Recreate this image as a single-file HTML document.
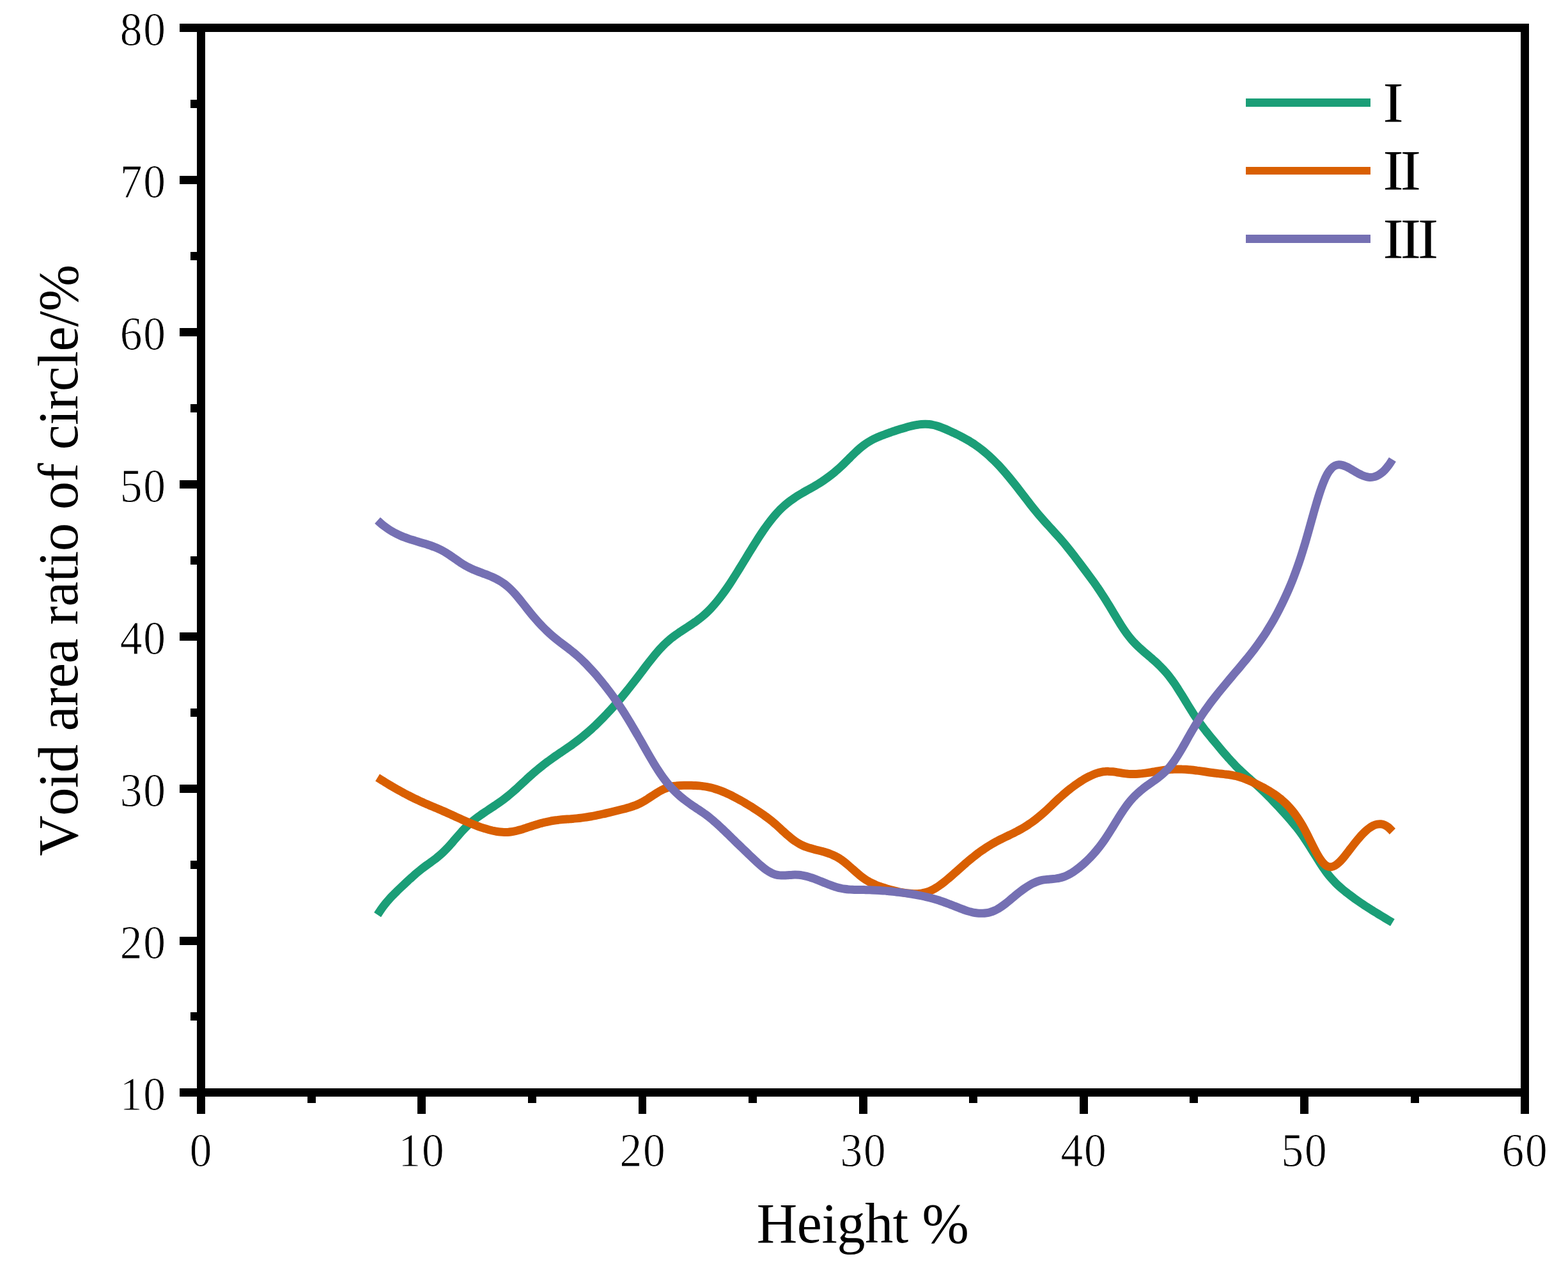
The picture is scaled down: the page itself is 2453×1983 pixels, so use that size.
<!DOCTYPE html>
<html lang="en"><head><meta charset="utf-8"><title>Void area ratio of circle vs Height</title>
<style>
html,body{margin:0;padding:0;background:#fff;}
body{width:2453px;height:1983px;overflow:hidden;}
svg{display:block;}
text{font-family:"Liberation Serif","Times New Roman",Times,serif;fill:#000;font-kerning:none;}
.tk{font-size:73px;letter-spacing:2px;stroke:#fff;stroke-width:0.9px;stroke-linejoin:round;}
.ax{font-size:88px;letter-spacing:-0.4px;}
.lg{font-size:88px;letter-spacing:-4.5px;}
</style></head><body>
<svg width="2453" height="1983" viewBox="0 0 2453 1983" role="img" aria-label="Void area ratio of circle versus Height">
<rect x="0" y="0" width="2453" height="1983" fill="#fff"/>
<g fill="none" stroke-width="13" stroke-linecap="butt" stroke-linejoin="round">
<path stroke="#1b9e77" d="M590.6 1430.6C591.6 1429.1 594.6 1424.4 596.6 1421.6C598.6 1418.7 600.6 1416.1 602.6 1413.6C604.6 1411.1 606.6 1408.8 608.6 1406.6C610.6 1404.3 612.6 1402.2 614.6 1400.2C616.6 1398.1 618.6 1396.1 620.6 1394.2C622.6 1392.2 624.6 1390.3 626.6 1388.4C628.6 1386.5 630.6 1384.6 632.6 1382.7C634.6 1380.8 636.6 1378.9 638.6 1377.1C640.6 1375.3 642.6 1373.4 644.6 1371.7C646.6 1369.9 648.6 1368.1 650.5 1366.4C652.5 1364.7 654.5 1363.1 656.5 1361.5C658.5 1359.9 660.5 1358.3 662.5 1356.8C664.5 1355.3 666.5 1353.8 668.5 1352.4C670.5 1350.9 672.5 1349.5 674.5 1348.0C676.5 1346.6 678.5 1345.1 680.5 1343.6C682.5 1342.0 684.5 1340.5 686.5 1338.8C688.5 1337.1 690.5 1335.4 692.5 1333.5C694.5 1331.6 696.5 1329.6 698.5 1327.5C700.5 1325.4 702.5 1323.2 704.5 1321.0C706.5 1318.8 708.5 1316.4 710.5 1314.1C712.5 1311.8 714.5 1309.5 716.5 1307.2C718.5 1304.9 720.5 1302.6 722.4 1300.5C724.4 1298.3 726.4 1296.1 728.4 1294.1C730.4 1292.1 732.4 1290.2 734.4 1288.4C736.4 1286.6 738.4 1284.9 740.4 1283.3C742.4 1281.7 744.4 1280.1 746.4 1278.6C748.4 1277.1 750.4 1275.7 752.4 1274.3C754.4 1272.9 756.4 1271.6 758.4 1270.2C760.4 1268.9 762.4 1267.6 764.4 1266.2C766.4 1264.9 768.4 1263.6 770.4 1262.3C772.4 1260.9 774.4 1259.6 776.4 1258.2C778.4 1256.9 780.4 1255.5 782.4 1254.1C784.4 1252.6 786.4 1251.2 788.4 1249.7C790.4 1248.2 792.3 1246.7 794.3 1245.1C796.3 1243.5 798.3 1241.8 800.3 1240.1C802.3 1238.4 804.3 1236.7 806.3 1234.9C808.3 1233.1 810.3 1231.2 812.3 1229.4C814.3 1227.6 816.3 1225.7 818.3 1223.8C820.3 1222.0 822.3 1220.1 824.3 1218.2C826.3 1216.4 828.3 1214.5 830.3 1212.8C832.3 1211.0 834.3 1209.2 836.3 1207.5C838.3 1205.8 840.3 1204.1 842.3 1202.5C844.3 1200.8 846.3 1199.2 848.3 1197.7C850.3 1196.1 852.3 1194.5 854.3 1193.0C856.3 1191.5 858.3 1190.1 860.3 1188.6C862.3 1187.2 864.2 1185.7 866.2 1184.3C868.2 1182.9 870.2 1181.6 872.2 1180.2C874.2 1178.8 876.2 1177.5 878.2 1176.1C880.2 1174.8 882.2 1173.4 884.2 1172.1C886.2 1170.7 888.2 1169.3 890.2 1168.0C892.2 1166.6 894.2 1165.2 896.2 1163.7C898.2 1162.3 900.2 1160.8 902.2 1159.3C904.2 1157.8 906.2 1156.2 908.2 1154.6C910.2 1153.1 912.2 1151.4 914.2 1149.7C916.2 1148.1 918.2 1146.4 920.2 1144.6C922.2 1142.9 924.2 1141.1 926.2 1139.3C928.2 1137.4 930.2 1135.6 932.2 1133.7C934.2 1131.8 936.1 1129.9 938.1 1127.9C940.1 1125.9 942.1 1123.9 944.1 1121.9C946.1 1119.8 948.1 1117.8 950.1 1115.6C952.1 1113.5 954.1 1111.4 956.1 1109.2C958.1 1107.0 960.1 1104.8 962.1 1102.5C964.1 1100.3 966.1 1098.0 968.1 1095.6C970.1 1093.3 972.1 1090.9 974.1 1088.5C976.1 1086.1 978.1 1083.6 980.1 1081.1C982.1 1078.7 984.1 1076.2 986.1 1073.6C988.1 1071.1 990.1 1068.5 992.1 1066.0C994.1 1063.4 996.1 1060.8 998.1 1058.2C1000.1 1055.6 1002.1 1053.0 1004.1 1050.4C1006.0 1047.8 1008.0 1045.1 1010.0 1042.5C1012.0 1039.9 1014.0 1037.3 1016.0 1034.8C1018.0 1032.2 1020.0 1029.7 1022.0 1027.2C1024.0 1024.7 1026.0 1022.3 1028.0 1020.0C1030.0 1017.7 1032.0 1015.4 1034.0 1013.3C1036.0 1011.1 1038.0 1009.1 1040.0 1007.1C1042.0 1005.2 1044.0 1003.4 1046.0 1001.7C1048.0 1000.0 1050.0 998.3 1052.0 996.8C1054.0 995.2 1056.0 993.8 1058.0 992.4C1060.0 990.9 1062.0 989.6 1064.0 988.2C1066.0 986.9 1068.0 985.6 1070.0 984.3C1072.0 983.0 1074.0 981.7 1076.0 980.4C1077.9 979.1 1079.9 977.8 1081.9 976.5C1083.9 975.1 1085.9 973.8 1087.9 972.4C1089.9 970.9 1091.9 969.5 1093.9 967.9C1095.9 966.4 1097.9 964.8 1099.9 963.1C1101.9 961.4 1103.9 959.6 1105.9 957.7C1107.9 955.8 1109.9 953.8 1111.9 951.7C1113.9 949.6 1115.9 947.4 1117.9 945.1C1119.9 942.7 1121.9 940.3 1123.9 937.8C1125.9 935.3 1127.9 932.6 1129.9 929.9C1131.9 927.2 1133.9 924.4 1135.9 921.6C1137.9 918.7 1139.9 915.8 1141.9 912.8C1143.9 909.8 1145.9 906.7 1147.8 903.6C1149.8 900.5 1151.8 897.3 1153.8 894.1C1155.8 890.9 1157.8 887.6 1159.8 884.4C1161.8 881.1 1163.8 877.8 1165.8 874.6C1167.8 871.3 1169.8 868.0 1171.8 864.7C1173.8 861.5 1175.8 858.2 1177.8 855.0C1179.8 851.8 1181.8 848.6 1183.8 845.5C1185.8 842.3 1187.8 839.2 1189.8 836.2C1191.8 833.2 1193.8 830.2 1195.8 827.3C1197.8 824.5 1199.8 821.7 1201.8 819.0C1203.8 816.3 1205.8 813.7 1207.8 811.2C1209.8 808.7 1211.8 806.3 1213.8 804.1C1215.8 801.8 1217.8 799.7 1219.7 797.7C1221.7 795.7 1223.7 793.8 1225.7 792.0C1227.7 790.2 1229.7 788.5 1231.7 786.9C1233.7 785.3 1235.7 783.8 1237.7 782.3C1239.7 780.9 1241.7 779.5 1243.7 778.1C1245.7 776.8 1247.7 775.5 1249.7 774.3C1251.7 773.1 1253.7 771.9 1255.7 770.7C1257.7 769.6 1259.7 768.4 1261.7 767.3C1263.7 766.2 1265.7 765.1 1267.7 764.0C1269.7 762.8 1271.7 761.7 1273.7 760.6C1275.7 759.4 1277.7 758.2 1279.7 757.0C1281.7 755.8 1283.7 754.5 1285.7 753.2C1287.7 751.9 1289.7 750.6 1291.6 749.1C1293.6 747.7 1295.6 746.3 1297.6 744.8C1299.6 743.3 1301.6 741.7 1303.6 740.1C1305.6 738.4 1307.6 736.8 1309.6 735.0C1311.6 733.3 1313.6 731.5 1315.6 729.6C1317.6 727.7 1319.6 725.8 1321.6 723.8C1323.6 721.9 1325.6 719.8 1327.6 717.9C1329.6 715.9 1331.6 713.8 1333.6 711.9C1335.6 709.9 1337.6 708.0 1339.6 706.1C1341.6 704.3 1343.6 702.5 1345.6 700.8C1347.6 699.1 1349.6 697.5 1351.6 696.0C1353.6 694.5 1355.6 693.2 1357.6 691.9C1359.6 690.6 1361.5 689.5 1363.5 688.4C1365.5 687.3 1367.5 686.3 1369.5 685.4C1371.5 684.5 1373.5 683.6 1375.5 682.8C1377.5 681.9 1379.5 681.1 1381.5 680.4C1383.5 679.6 1385.5 678.9 1387.5 678.1C1389.5 677.4 1391.5 676.7 1393.5 676.0C1395.5 675.3 1397.5 674.6 1399.5 674.0C1401.5 673.3 1403.5 672.6 1405.5 672.0C1407.5 671.4 1409.5 670.8 1411.5 670.2C1413.5 669.6 1415.5 669.0 1417.5 668.4C1419.5 667.9 1421.5 667.3 1423.5 666.8C1425.5 666.3 1427.5 665.8 1429.5 665.4C1431.5 665.0 1433.4 664.6 1435.4 664.3C1437.4 663.9 1439.4 663.7 1441.4 663.5C1443.4 663.3 1445.4 663.2 1447.4 663.2C1449.4 663.2 1451.4 663.3 1453.4 663.5C1455.4 663.8 1457.4 664.1 1459.4 664.5C1461.4 664.9 1463.4 665.4 1465.4 666.0C1467.4 666.6 1469.4 667.3 1471.4 668.0C1473.4 668.8 1475.4 669.6 1477.4 670.4C1479.4 671.2 1481.4 672.1 1483.4 673.0C1485.4 673.9 1487.4 674.8 1489.4 675.7C1491.4 676.7 1493.4 677.6 1495.4 678.6C1497.4 679.5 1499.4 680.5 1501.4 681.5C1503.3 682.5 1505.3 683.6 1507.3 684.6C1509.3 685.7 1511.3 686.8 1513.3 688.0C1515.3 689.1 1517.3 690.3 1519.3 691.6C1521.3 692.8 1523.3 694.1 1525.3 695.5C1527.3 696.9 1529.3 698.3 1531.3 699.8C1533.3 701.2 1535.3 702.8 1537.3 704.4C1539.3 706.0 1541.3 707.7 1543.3 709.4C1545.3 711.1 1547.3 712.9 1549.3 714.8C1551.3 716.6 1553.3 718.5 1555.3 720.5C1557.3 722.5 1559.3 724.5 1561.3 726.6C1563.3 728.7 1565.3 730.9 1567.3 733.1C1569.3 735.3 1571.3 737.6 1573.3 739.9C1575.2 742.3 1577.2 744.6 1579.2 747.0C1581.2 749.4 1583.2 751.9 1585.2 754.4C1587.2 756.9 1589.2 759.4 1591.2 761.9C1593.2 764.5 1595.2 767.1 1597.2 769.7C1599.2 772.3 1601.2 774.9 1603.2 777.5C1605.2 780.1 1607.2 782.7 1609.2 785.3C1611.2 787.9 1613.2 790.4 1615.2 793.0C1617.2 795.5 1619.2 798.0 1621.2 800.4C1623.2 802.9 1625.2 805.3 1627.2 807.6C1629.2 809.9 1631.2 812.2 1633.2 814.4C1635.2 816.7 1637.2 818.9 1639.2 821.0C1641.2 823.2 1643.2 825.4 1645.2 827.5C1647.1 829.7 1649.1 831.9 1651.1 834.1C1653.1 836.3 1655.1 838.5 1657.1 840.7C1659.1 843.0 1661.1 845.3 1663.1 847.7C1665.1 850.0 1667.1 852.4 1669.1 854.9C1671.1 857.4 1673.1 859.9 1675.1 862.4C1677.1 865.0 1679.1 867.5 1681.1 870.1C1683.1 872.8 1685.1 875.4 1687.1 878.0C1689.1 880.7 1691.1 883.3 1693.1 886.0C1695.1 888.7 1697.1 891.3 1699.1 894.0C1701.1 896.7 1703.1 899.4 1705.1 902.1C1707.1 904.8 1709.1 907.5 1711.1 910.3C1713.1 913.1 1715.1 915.9 1717.0 918.8C1719.0 921.7 1721.0 924.6 1723.0 927.7C1725.0 930.7 1727.0 933.8 1729.0 936.9C1731.0 940.1 1733.0 943.4 1735.0 946.7C1737.0 950.0 1739.0 953.4 1741.0 956.7C1743.0 960.1 1745.0 963.4 1747.0 966.7C1749.0 970.0 1751.0 973.3 1753.0 976.5C1755.0 979.6 1757.0 982.7 1759.0 985.6C1761.0 988.5 1763.0 991.3 1765.0 993.9C1767.0 996.5 1769.0 998.9 1771.0 1001.2C1773.0 1003.5 1775.0 1005.6 1777.0 1007.6C1779.0 1009.6 1781.0 1011.5 1783.0 1013.4C1785.0 1015.2 1787.0 1017.0 1788.9 1018.7C1790.9 1020.4 1792.9 1022.1 1794.9 1023.8C1796.9 1025.5 1798.9 1027.2 1800.9 1028.9C1802.9 1030.7 1804.9 1032.4 1806.9 1034.2C1808.9 1036.0 1810.9 1037.9 1812.9 1039.9C1814.9 1041.8 1816.9 1043.8 1818.9 1045.9C1820.9 1048.1 1822.9 1050.3 1824.9 1052.6C1826.9 1055.0 1828.9 1057.4 1830.9 1060.1C1832.9 1062.7 1834.9 1065.5 1836.9 1068.3C1838.9 1071.2 1840.9 1074.3 1842.9 1077.4C1844.9 1080.5 1846.9 1083.7 1848.9 1086.9C1850.9 1090.2 1852.9 1093.5 1854.9 1096.7C1856.9 1100.0 1858.8 1103.2 1860.8 1106.4C1862.8 1109.6 1864.8 1112.8 1866.8 1115.9C1868.8 1118.9 1870.8 1121.9 1872.8 1124.8C1874.8 1127.6 1876.8 1130.4 1878.8 1133.1C1880.8 1135.8 1882.8 1138.5 1884.8 1141.1C1886.8 1143.6 1888.8 1146.2 1890.8 1148.6C1892.8 1151.1 1894.8 1153.6 1896.8 1156.0C1898.8 1158.4 1900.8 1160.8 1902.8 1163.2C1904.8 1165.6 1906.8 1168.0 1908.8 1170.4C1910.8 1172.7 1912.8 1175.1 1914.8 1177.4C1916.8 1179.7 1918.8 1182.0 1920.8 1184.3C1922.8 1186.5 1924.8 1188.8 1926.8 1190.9C1928.8 1193.1 1930.7 1195.2 1932.7 1197.3C1934.7 1199.3 1936.7 1201.3 1938.7 1203.2C1940.7 1205.2 1942.7 1207.0 1944.7 1208.9C1946.7 1210.7 1948.7 1212.5 1950.7 1214.3C1952.7 1216.1 1954.7 1217.8 1956.7 1219.6C1958.7 1221.3 1960.7 1223.0 1962.7 1224.8C1964.7 1226.6 1966.7 1228.4 1968.7 1230.2C1970.7 1232.0 1972.7 1233.9 1974.7 1235.8C1976.7 1237.7 1978.7 1239.6 1980.7 1241.6C1982.7 1243.6 1984.7 1245.6 1986.7 1247.6C1988.7 1249.7 1990.7 1251.8 1992.7 1253.9C1994.7 1256.0 1996.7 1258.1 1998.7 1260.2C2000.7 1262.4 2002.6 1264.5 2004.6 1266.7C2006.6 1268.9 2008.6 1271.0 2010.6 1273.3C2012.6 1275.5 2014.6 1277.7 2016.6 1280.0C2018.6 1282.3 2020.6 1284.6 2022.6 1287.0C2024.6 1289.4 2026.6 1291.8 2028.6 1294.3C2030.6 1296.9 2032.6 1299.5 2034.6 1302.2C2036.6 1305.0 2038.6 1307.8 2040.6 1310.7C2042.6 1313.7 2044.6 1316.8 2046.6 1319.9C2048.6 1323.0 2050.6 1326.3 2052.6 1329.5C2054.6 1332.7 2056.6 1336.0 2058.6 1339.2C2060.6 1342.4 2062.6 1345.6 2064.6 1348.7C2066.6 1351.8 2068.6 1354.8 2070.6 1357.7C2072.5 1360.6 2074.5 1363.4 2076.5 1366.0C2078.5 1368.6 2080.5 1371.0 2082.5 1373.3C2084.5 1375.6 2086.5 1377.7 2088.5 1379.8C2090.5 1381.8 2092.5 1383.8 2094.5 1385.6C2096.5 1387.4 2098.5 1389.2 2100.5 1390.9C2102.5 1392.6 2104.5 1394.2 2106.5 1395.7C2108.5 1397.3 2110.5 1398.8 2112.5 1400.3C2114.5 1401.8 2116.5 1403.3 2118.5 1404.8C2120.5 1406.2 2122.5 1407.6 2124.5 1409.0C2126.5 1410.4 2128.5 1411.8 2130.5 1413.1C2132.5 1414.4 2134.5 1415.8 2136.5 1417.1C2138.5 1418.4 2140.5 1419.6 2142.5 1420.9C2144.4 1422.2 2146.4 1423.4 2148.4 1424.7C2150.4 1425.9 2152.4 1427.1 2154.4 1428.3C2156.4 1429.6 2158.4 1430.8 2160.4 1432.0C2162.4 1433.2 2164.4 1434.4 2166.4 1435.6C2168.4 1436.8 2170.4 1438.0 2172.4 1439.2C2174.4 1440.4 2177.4 1442.2 2178.4 1442.8"/>
<path stroke="#d95f02" d="M590.6 1216.0C591.6 1216.6 594.6 1218.5 596.6 1219.7C598.6 1221.0 600.6 1222.2 602.6 1223.5C604.6 1224.7 606.6 1225.9 608.6 1227.1C610.6 1228.3 612.6 1229.5 614.6 1230.6C616.6 1231.8 618.6 1232.9 620.6 1234.1C622.6 1235.2 624.6 1236.3 626.6 1237.4C628.6 1238.5 630.6 1239.6 632.6 1240.7C634.6 1241.7 636.6 1242.8 638.6 1243.8C640.6 1244.9 642.6 1245.9 644.6 1246.9C646.6 1247.9 648.6 1248.8 650.5 1249.8C652.5 1250.7 654.5 1251.7 656.5 1252.6C658.5 1253.5 660.5 1254.4 662.5 1255.3C664.5 1256.2 666.5 1257.1 668.5 1257.9C670.5 1258.8 672.5 1259.6 674.5 1260.5C676.5 1261.3 678.5 1262.1 680.5 1263.0C682.5 1263.8 684.5 1264.6 686.5 1265.5C688.5 1266.3 690.5 1267.2 692.5 1268.1C694.5 1268.9 696.5 1269.8 698.5 1270.7C700.5 1271.6 702.5 1272.5 704.5 1273.4C706.5 1274.3 708.5 1275.2 710.5 1276.1C712.5 1277.1 714.5 1278.0 716.5 1278.9C718.5 1279.8 720.5 1280.7 722.4 1281.6C724.4 1282.5 726.4 1283.4 728.4 1284.3C730.4 1285.1 732.4 1286.0 734.4 1286.8C736.4 1287.7 738.4 1288.5 740.4 1289.3C742.4 1290.1 744.4 1290.9 746.4 1291.6C748.4 1292.4 750.4 1293.1 752.4 1293.8C754.4 1294.5 756.4 1295.1 758.4 1295.7C760.4 1296.4 762.4 1297.0 764.4 1297.5C766.4 1298.0 768.4 1298.5 770.4 1299.0C772.4 1299.4 774.4 1299.9 776.4 1300.2C778.4 1300.5 780.4 1300.8 782.4 1301.0C784.4 1301.2 786.4 1301.4 788.4 1301.4C790.4 1301.5 792.3 1301.5 794.3 1301.4C796.3 1301.3 798.3 1301.1 800.3 1300.8C802.3 1300.5 804.3 1300.1 806.3 1299.7C808.3 1299.2 810.3 1298.7 812.3 1298.1C814.3 1297.6 816.3 1297.0 818.3 1296.4C820.3 1295.7 822.3 1295.1 824.3 1294.4C826.3 1293.7 828.3 1293.1 830.3 1292.4C832.3 1291.8 834.3 1291.1 836.3 1290.5C838.3 1289.9 840.3 1289.3 842.3 1288.7C844.3 1288.1 846.3 1287.6 848.3 1287.0C850.3 1286.5 852.3 1286.0 854.3 1285.6C856.3 1285.1 858.3 1284.7 860.3 1284.3C862.3 1283.9 864.2 1283.6 866.2 1283.3C868.2 1283.0 870.2 1282.7 872.2 1282.5C874.2 1282.2 876.2 1282.0 878.2 1281.8C880.2 1281.7 882.2 1281.5 884.2 1281.3C886.2 1281.2 888.2 1281.0 890.2 1280.9C892.2 1280.7 894.2 1280.6 896.2 1280.4C898.2 1280.3 900.2 1280.1 902.2 1279.9C904.2 1279.7 906.2 1279.5 908.2 1279.2C910.2 1279.0 912.2 1278.7 914.2 1278.4C916.2 1278.1 918.2 1277.8 920.2 1277.5C922.2 1277.2 924.2 1276.8 926.2 1276.5C928.2 1276.1 930.2 1275.7 932.2 1275.3C934.2 1274.9 936.1 1274.5 938.1 1274.1C940.1 1273.7 942.1 1273.3 944.1 1272.8C946.1 1272.4 948.1 1271.9 950.1 1271.4C952.1 1271.0 954.1 1270.5 956.1 1270.0C958.1 1269.5 960.1 1269.0 962.1 1268.5C964.1 1268.0 966.1 1267.5 968.1 1267.0C970.1 1266.5 972.1 1266.0 974.1 1265.5C976.1 1265.0 978.1 1264.5 980.1 1263.9C982.1 1263.4 984.1 1262.8 986.1 1262.2C988.1 1261.5 990.1 1260.9 992.1 1260.1C994.1 1259.4 996.1 1258.6 998.1 1257.7C1000.1 1256.8 1002.1 1255.9 1004.1 1254.8C1006.0 1253.7 1008.0 1252.6 1010.0 1251.4C1012.0 1250.2 1014.0 1248.8 1016.0 1247.5C1018.0 1246.2 1020.0 1244.9 1022.0 1243.6C1024.0 1242.3 1026.0 1241.0 1028.0 1239.7C1030.0 1238.5 1032.0 1237.3 1034.0 1236.3C1036.0 1235.2 1038.0 1234.2 1040.0 1233.4C1042.0 1232.6 1044.0 1231.9 1046.0 1231.3C1048.0 1230.7 1050.0 1230.2 1052.0 1229.8C1054.0 1229.5 1056.0 1229.2 1058.0 1229.0C1060.0 1228.7 1062.0 1228.6 1064.0 1228.5C1066.0 1228.4 1068.0 1228.3 1070.0 1228.3C1072.0 1228.3 1074.0 1228.3 1076.0 1228.3C1077.9 1228.3 1079.9 1228.3 1081.9 1228.3C1083.9 1228.4 1085.9 1228.4 1087.9 1228.5C1089.9 1228.6 1091.9 1228.7 1093.9 1228.9C1095.9 1229.1 1097.9 1229.3 1099.9 1229.6C1101.9 1229.8 1103.9 1230.1 1105.9 1230.5C1107.9 1230.9 1109.9 1231.3 1111.9 1231.8C1113.9 1232.3 1115.9 1232.8 1117.9 1233.4C1119.9 1234.0 1121.9 1234.7 1123.9 1235.4C1125.9 1236.1 1127.9 1236.8 1129.9 1237.6C1131.9 1238.4 1133.9 1239.3 1135.9 1240.2C1137.9 1241.1 1139.9 1242.0 1141.9 1242.9C1143.9 1243.9 1145.9 1244.9 1147.8 1245.9C1149.8 1246.9 1151.8 1248.0 1153.8 1249.1C1155.8 1250.2 1157.8 1251.3 1159.8 1252.4C1161.8 1253.5 1163.8 1254.7 1165.8 1255.9C1167.8 1257.1 1169.8 1258.3 1171.8 1259.5C1173.8 1260.7 1175.8 1262.0 1177.8 1263.2C1179.8 1264.5 1181.8 1265.8 1183.8 1267.1C1185.8 1268.4 1187.8 1269.7 1189.8 1271.1C1191.8 1272.4 1193.8 1273.8 1195.8 1275.3C1197.8 1276.7 1199.8 1278.2 1201.8 1279.7C1203.8 1281.2 1205.8 1282.8 1207.8 1284.4C1209.8 1286.1 1211.8 1287.8 1213.8 1289.5C1215.8 1291.3 1217.8 1293.1 1219.7 1294.9C1221.7 1296.7 1223.7 1298.6 1225.7 1300.4C1227.7 1302.2 1229.7 1304.0 1231.7 1305.8C1233.7 1307.5 1235.7 1309.2 1237.7 1310.8C1239.7 1312.4 1241.7 1314.0 1243.7 1315.4C1245.7 1316.7 1247.7 1318.0 1249.7 1319.1C1251.7 1320.3 1253.7 1321.3 1255.7 1322.2C1257.7 1323.1 1259.7 1323.9 1261.7 1324.6C1263.7 1325.3 1265.7 1326.0 1267.7 1326.6C1269.7 1327.2 1271.7 1327.7 1273.7 1328.2C1275.7 1328.8 1277.7 1329.3 1279.7 1329.8C1281.7 1330.3 1283.7 1330.8 1285.7 1331.3C1287.7 1331.9 1289.7 1332.4 1291.6 1333.0C1293.6 1333.6 1295.6 1334.3 1297.6 1335.0C1299.6 1335.8 1301.6 1336.6 1303.6 1337.5C1305.6 1338.4 1307.6 1339.3 1309.6 1340.4C1311.6 1341.6 1313.6 1342.8 1315.6 1344.1C1317.6 1345.5 1319.6 1347.0 1321.6 1348.6C1323.6 1350.2 1325.6 1351.9 1327.6 1353.6C1329.6 1355.3 1331.6 1357.2 1333.6 1358.9C1335.6 1360.7 1337.6 1362.5 1339.6 1364.2C1341.6 1366.0 1343.6 1367.7 1345.6 1369.3C1347.6 1370.9 1349.6 1372.4 1351.6 1373.8C1353.6 1375.2 1355.6 1376.5 1357.6 1377.7C1359.6 1378.8 1361.5 1379.9 1363.5 1380.9C1365.5 1381.9 1367.5 1382.8 1369.5 1383.6C1371.5 1384.5 1373.5 1385.2 1375.5 1386.0C1377.5 1386.7 1379.5 1387.4 1381.5 1388.0C1383.5 1388.7 1385.5 1389.3 1387.5 1389.9C1389.5 1390.5 1391.5 1391.0 1393.5 1391.6C1395.5 1392.1 1397.5 1392.6 1399.5 1393.1C1401.5 1393.6 1403.5 1394.1 1405.5 1394.5C1407.5 1394.9 1409.5 1395.3 1411.5 1395.6C1413.5 1396.0 1415.5 1396.3 1417.5 1396.6C1419.5 1396.9 1421.5 1397.1 1423.5 1397.3C1425.5 1397.5 1427.5 1397.6 1429.5 1397.7C1431.5 1397.8 1433.4 1397.8 1435.4 1397.7C1437.4 1397.6 1439.4 1397.4 1441.4 1397.1C1443.4 1396.8 1445.4 1396.4 1447.4 1395.9C1449.4 1395.4 1451.4 1394.8 1453.4 1394.0C1455.4 1393.2 1457.4 1392.3 1459.4 1391.2C1461.4 1390.2 1463.4 1389.0 1465.4 1387.7C1467.4 1386.5 1469.4 1385.1 1471.4 1383.6C1473.4 1382.2 1475.4 1380.7 1477.4 1379.1C1479.4 1377.5 1481.4 1375.8 1483.4 1374.1C1485.4 1372.5 1487.4 1370.7 1489.4 1369.0C1491.4 1367.3 1493.4 1365.5 1495.4 1363.7C1497.4 1362.0 1499.4 1360.2 1501.4 1358.4C1503.3 1356.7 1505.3 1354.9 1507.3 1353.1C1509.3 1351.4 1511.3 1349.6 1513.3 1347.9C1515.3 1346.2 1517.3 1344.5 1519.3 1342.9C1521.3 1341.3 1523.3 1339.7 1525.3 1338.1C1527.3 1336.5 1529.3 1335.0 1531.3 1333.5C1533.3 1332.1 1535.3 1330.6 1537.3 1329.3C1539.3 1327.9 1541.3 1326.5 1543.3 1325.2C1545.3 1323.9 1547.3 1322.7 1549.3 1321.5C1551.3 1320.3 1553.3 1319.1 1555.3 1318.0C1557.3 1316.9 1559.3 1315.8 1561.3 1314.8C1563.3 1313.7 1565.3 1312.7 1567.3 1311.8C1569.3 1310.8 1571.3 1309.8 1573.3 1308.8C1575.2 1307.9 1577.2 1306.9 1579.2 1306.0C1581.2 1305.0 1583.2 1304.0 1585.2 1303.1C1587.2 1302.1 1589.2 1301.0 1591.2 1300.0C1593.2 1298.9 1595.2 1297.8 1597.2 1296.7C1599.2 1295.6 1601.2 1294.4 1603.2 1293.2C1605.2 1291.9 1607.2 1290.7 1609.2 1289.3C1611.2 1288.0 1613.2 1286.6 1615.2 1285.2C1617.2 1283.7 1619.2 1282.2 1621.2 1280.7C1623.2 1279.1 1625.2 1277.5 1627.2 1275.8C1629.2 1274.1 1631.2 1272.4 1633.2 1270.6C1635.2 1268.8 1637.2 1267.0 1639.2 1265.1C1641.2 1263.2 1643.2 1261.3 1645.2 1259.5C1647.1 1257.6 1649.1 1255.7 1651.1 1253.8C1653.1 1251.9 1655.1 1250.0 1657.1 1248.2C1659.1 1246.4 1661.1 1244.6 1663.1 1242.8C1665.1 1241.1 1667.1 1239.4 1669.1 1237.7C1671.1 1236.1 1673.1 1234.5 1675.1 1232.9C1677.1 1231.4 1679.1 1229.9 1681.1 1228.4C1683.1 1227.0 1685.1 1225.6 1687.1 1224.2C1689.1 1222.9 1691.1 1221.6 1693.1 1220.4C1695.1 1219.1 1697.1 1217.9 1699.1 1216.8C1701.1 1215.7 1703.1 1214.6 1705.1 1213.7C1707.1 1212.7 1709.1 1211.8 1711.1 1211.0C1713.1 1210.2 1715.1 1209.5 1717.0 1208.9C1719.0 1208.2 1721.0 1207.7 1723.0 1207.3C1725.0 1206.9 1727.0 1206.6 1729.0 1206.5C1731.0 1206.3 1733.0 1206.3 1735.0 1206.4C1737.0 1206.4 1739.0 1206.6 1741.0 1206.8C1743.0 1207.0 1745.0 1207.3 1747.0 1207.7C1749.0 1208.0 1751.0 1208.3 1753.0 1208.6C1755.0 1209.0 1757.0 1209.3 1759.0 1209.6C1761.0 1209.9 1763.0 1210.1 1765.0 1210.3C1767.0 1210.4 1769.0 1210.5 1771.0 1210.5C1773.0 1210.6 1775.0 1210.5 1777.0 1210.4C1779.0 1210.4 1781.0 1210.2 1783.0 1210.0C1785.0 1209.9 1787.0 1209.6 1788.9 1209.4C1790.9 1209.2 1792.9 1208.9 1794.9 1208.6C1796.9 1208.3 1798.9 1208.0 1800.9 1207.7C1802.9 1207.3 1804.9 1207.0 1806.9 1206.7C1808.9 1206.3 1810.9 1206.0 1812.9 1205.7C1814.9 1205.4 1816.9 1205.1 1818.9 1204.8C1820.9 1204.5 1822.9 1204.2 1824.9 1204.0C1826.9 1203.8 1828.9 1203.6 1830.9 1203.4C1832.9 1203.2 1834.9 1203.1 1836.9 1203.0C1838.9 1202.9 1840.9 1202.9 1842.9 1202.9C1844.9 1202.9 1846.9 1202.9 1848.9 1203.0C1850.9 1203.0 1852.9 1203.1 1854.9 1203.2C1856.9 1203.4 1858.8 1203.5 1860.8 1203.7C1862.8 1203.9 1864.8 1204.1 1866.8 1204.3C1868.8 1204.6 1870.8 1204.8 1872.8 1205.1C1874.8 1205.3 1876.8 1205.6 1878.8 1205.9C1880.8 1206.2 1882.8 1206.5 1884.8 1206.8C1886.8 1207.1 1888.8 1207.4 1890.8 1207.7C1892.8 1208.0 1894.8 1208.3 1896.8 1208.5C1898.8 1208.8 1900.8 1209.1 1902.8 1209.3C1904.8 1209.5 1906.8 1209.8 1908.8 1210.0C1910.8 1210.2 1912.8 1210.4 1914.8 1210.6C1916.8 1210.8 1918.8 1211.1 1920.8 1211.3C1922.8 1211.6 1924.8 1211.9 1926.8 1212.2C1928.8 1212.6 1930.7 1212.9 1932.7 1213.4C1934.7 1213.8 1936.7 1214.4 1938.7 1214.9C1940.7 1215.5 1942.7 1216.2 1944.7 1216.9C1946.7 1217.6 1948.7 1218.4 1950.7 1219.2C1952.7 1220.1 1954.7 1220.9 1956.7 1221.9C1958.7 1222.8 1960.7 1223.7 1962.7 1224.7C1964.7 1225.7 1966.7 1226.7 1968.7 1227.7C1970.7 1228.8 1972.7 1229.8 1974.7 1230.9C1976.7 1231.9 1978.7 1233.0 1980.7 1234.1C1982.7 1235.3 1984.7 1236.4 1986.7 1237.6C1988.7 1238.9 1990.7 1240.1 1992.7 1241.5C1994.7 1242.8 1996.7 1244.2 1998.7 1245.7C2000.7 1247.2 2002.6 1248.8 2004.6 1250.4C2006.6 1252.1 2008.6 1253.9 2010.6 1255.8C2012.6 1257.7 2014.6 1259.7 2016.6 1261.9C2018.6 1264.1 2020.6 1266.4 2022.6 1268.9C2024.6 1271.4 2026.6 1274.0 2028.6 1276.9C2030.6 1279.8 2032.6 1282.8 2034.6 1286.1C2036.6 1289.3 2038.6 1292.8 2040.6 1296.5C2042.6 1300.2 2044.6 1304.3 2046.6 1308.2C2048.6 1312.2 2050.6 1316.4 2052.6 1320.4C2054.6 1324.4 2056.6 1328.4 2058.6 1332.1C2060.6 1335.7 2062.6 1339.3 2064.6 1342.3C2066.6 1345.3 2068.6 1348.1 2070.6 1350.2C2072.5 1352.3 2074.5 1353.9 2076.5 1354.8C2078.5 1355.8 2080.5 1356.0 2082.5 1355.8C2084.5 1355.6 2086.5 1354.7 2088.5 1353.6C2090.5 1352.5 2092.5 1350.8 2094.5 1349.0C2096.5 1347.2 2098.5 1345.0 2100.5 1342.7C2102.5 1340.4 2104.5 1337.8 2106.5 1335.3C2108.5 1332.8 2110.5 1330.1 2112.5 1327.5C2114.5 1325.0 2116.5 1322.3 2118.5 1319.8C2120.5 1317.3 2122.5 1314.8 2124.5 1312.4C2126.5 1310.1 2128.5 1307.7 2130.5 1305.6C2132.5 1303.5 2134.5 1301.4 2136.5 1299.6C2138.5 1297.8 2140.5 1296.1 2142.5 1294.7C2144.4 1293.3 2146.4 1292.1 2148.4 1291.1C2150.4 1290.2 2152.4 1289.5 2154.4 1289.1C2156.4 1288.7 2158.4 1288.6 2160.4 1288.8C2162.4 1289.0 2164.4 1289.5 2166.4 1290.4C2168.4 1291.3 2170.4 1292.6 2172.4 1294.2C2174.4 1295.9 2177.4 1299.3 2178.4 1300.3"/>
<path stroke="#7570b3" d="M590.6 813.8C591.6 814.7 594.6 817.5 596.6 819.2C598.6 820.9 600.6 822.4 602.6 823.9C604.6 825.4 606.6 826.8 608.6 828.1C610.6 829.4 612.6 830.6 614.6 831.7C616.6 832.9 618.6 833.9 620.6 834.9C622.6 835.9 624.6 836.8 626.6 837.7C628.6 838.6 630.6 839.4 632.6 840.2C634.6 840.9 636.6 841.6 638.6 842.3C640.6 843.0 642.6 843.7 644.6 844.3C646.6 844.9 648.6 845.5 650.5 846.1C652.5 846.7 654.5 847.3 656.5 847.9C658.5 848.5 660.5 849.1 662.5 849.7C664.5 850.3 666.5 850.9 668.5 851.5C670.5 852.2 672.5 852.8 674.5 853.5C676.5 854.2 678.5 855.0 680.5 855.8C682.5 856.6 684.5 857.5 686.5 858.4C688.5 859.3 690.5 860.3 692.5 861.4C694.5 862.5 696.5 863.7 698.5 864.9C700.5 866.2 702.5 867.5 704.5 868.8C706.5 870.2 708.5 871.6 710.5 873.0C712.5 874.3 714.5 875.7 716.5 877.1C718.5 878.5 720.5 879.8 722.4 881.1C724.4 882.4 726.4 883.6 728.4 884.7C730.4 885.9 732.4 886.9 734.4 887.9C736.4 888.9 738.4 889.8 740.4 890.7C742.4 891.5 744.4 892.3 746.4 893.1C748.4 893.9 750.4 894.7 752.4 895.4C754.4 896.2 756.4 896.9 758.4 897.7C760.4 898.4 762.4 899.2 764.4 900.0C766.4 900.8 768.4 901.6 770.4 902.5C772.4 903.4 774.4 904.3 776.4 905.4C778.4 906.4 780.4 907.5 782.4 908.7C784.4 909.9 786.4 911.2 788.4 912.7C790.4 914.1 792.3 915.7 794.3 917.4C796.3 919.1 798.3 921.0 800.3 923.0C802.3 925.0 804.3 927.2 806.3 929.4C808.3 931.7 810.3 934.1 812.3 936.5C814.3 938.9 816.3 941.5 818.3 944.0C820.3 946.5 822.3 949.1 824.3 951.6C826.3 954.1 828.3 956.6 830.3 959.1C832.3 961.6 834.3 964.0 836.3 966.3C838.3 968.6 840.3 970.9 842.3 973.1C844.3 975.3 846.3 977.4 848.3 979.5C850.3 981.5 852.3 983.5 854.3 985.5C856.3 987.4 858.3 989.3 860.3 991.1C862.3 992.9 864.2 994.6 866.2 996.3C868.2 998.0 870.2 999.6 872.2 1001.2C874.2 1002.8 876.2 1004.3 878.2 1005.8C880.2 1007.3 882.2 1008.8 884.2 1010.3C886.2 1011.8 888.2 1013.3 890.2 1014.8C892.2 1016.4 894.2 1017.9 896.2 1019.6C898.2 1021.2 900.2 1022.8 902.2 1024.6C904.2 1026.3 906.2 1028.1 908.2 1030.0C910.2 1031.8 912.2 1033.8 914.2 1035.8C916.2 1037.7 918.2 1039.8 920.2 1041.9C922.2 1044.0 924.2 1046.2 926.2 1048.4C928.2 1050.6 930.2 1052.8 932.2 1055.1C934.2 1057.4 936.1 1059.8 938.1 1062.2C940.1 1064.6 942.1 1067.0 944.1 1069.5C946.1 1071.9 948.1 1074.5 950.1 1077.1C952.1 1079.6 954.1 1082.3 956.1 1085.0C958.1 1087.7 960.1 1090.4 962.1 1093.3C964.1 1096.1 966.1 1099.0 968.1 1101.9C970.1 1104.9 972.1 1108.0 974.1 1111.1C976.1 1114.2 978.1 1117.4 980.1 1120.6C982.1 1123.8 984.1 1127.1 986.1 1130.4C988.1 1133.8 990.1 1137.2 992.1 1140.6C994.1 1144.0 996.1 1147.4 998.1 1150.9C1000.1 1154.3 1002.1 1157.8 1004.1 1161.3C1006.0 1164.8 1008.0 1168.3 1010.0 1171.8C1012.0 1175.3 1014.0 1178.8 1016.0 1182.2C1018.0 1185.6 1020.0 1189.0 1022.0 1192.3C1024.0 1195.7 1026.0 1198.9 1028.0 1202.1C1030.0 1205.2 1032.0 1208.3 1034.0 1211.2C1036.0 1214.1 1038.0 1216.9 1040.0 1219.5C1042.0 1222.2 1044.0 1224.7 1046.0 1227.0C1048.0 1229.4 1050.0 1231.6 1052.0 1233.8C1054.0 1235.9 1056.0 1237.9 1058.0 1239.8C1060.0 1241.7 1062.0 1243.5 1064.0 1245.2C1066.0 1246.9 1068.0 1248.5 1070.0 1250.1C1072.0 1251.6 1074.0 1253.1 1076.0 1254.6C1077.9 1256.0 1079.9 1257.4 1081.9 1258.8C1083.9 1260.2 1085.9 1261.5 1087.9 1262.8C1089.9 1264.2 1091.9 1265.5 1093.9 1266.8C1095.9 1268.2 1097.9 1269.5 1099.9 1270.9C1101.9 1272.4 1103.9 1273.8 1105.9 1275.3C1107.9 1276.8 1109.9 1278.4 1111.9 1280.0C1113.9 1281.6 1115.9 1283.3 1117.9 1285.1C1119.9 1286.8 1121.9 1288.6 1123.9 1290.4C1125.9 1292.3 1127.9 1294.1 1129.9 1296.0C1131.9 1297.9 1133.9 1299.9 1135.9 1301.8C1137.9 1303.7 1139.9 1305.7 1141.9 1307.6C1143.9 1309.6 1145.9 1311.5 1147.8 1313.4C1149.8 1315.4 1151.8 1317.3 1153.8 1319.3C1155.8 1321.2 1157.8 1323.1 1159.8 1325.0C1161.8 1327.0 1163.8 1328.9 1165.8 1330.8C1167.8 1332.7 1169.8 1334.6 1171.8 1336.6C1173.8 1338.5 1175.8 1340.4 1177.8 1342.3C1179.8 1344.2 1181.8 1346.1 1183.8 1347.9C1185.8 1349.7 1187.8 1351.6 1189.8 1353.3C1191.8 1355.0 1193.8 1356.7 1195.8 1358.2C1197.8 1359.7 1199.8 1361.1 1201.8 1362.4C1203.8 1363.6 1205.8 1364.8 1207.8 1365.7C1209.8 1366.6 1211.8 1367.3 1213.8 1367.9C1215.8 1368.4 1217.8 1368.7 1219.7 1368.9C1221.7 1369.1 1223.7 1369.1 1225.7 1369.1C1227.7 1369.1 1229.7 1369.0 1231.7 1368.8C1233.7 1368.7 1235.7 1368.5 1237.7 1368.4C1239.7 1368.3 1241.7 1368.1 1243.7 1368.1C1245.7 1368.1 1247.7 1368.1 1249.7 1368.3C1251.7 1368.5 1253.7 1368.8 1255.7 1369.1C1257.7 1369.5 1259.7 1369.9 1261.7 1370.4C1263.7 1370.9 1265.7 1371.5 1267.7 1372.2C1269.7 1372.8 1271.7 1373.5 1273.7 1374.2C1275.7 1374.9 1277.7 1375.7 1279.7 1376.5C1281.7 1377.3 1283.7 1378.1 1285.7 1378.9C1287.7 1379.7 1289.7 1380.5 1291.6 1381.3C1293.6 1382.1 1295.6 1382.9 1297.6 1383.7C1299.6 1384.4 1301.6 1385.2 1303.6 1385.8C1305.6 1386.5 1307.6 1387.2 1309.6 1387.7C1311.6 1388.3 1313.6 1388.8 1315.6 1389.2C1317.6 1389.7 1319.6 1390.0 1321.6 1390.3C1323.6 1390.6 1325.6 1390.8 1327.6 1390.9C1329.6 1391.1 1331.6 1391.2 1333.6 1391.3C1335.6 1391.4 1337.6 1391.4 1339.6 1391.5C1341.6 1391.5 1343.6 1391.5 1345.6 1391.6C1347.6 1391.6 1349.6 1391.6 1351.6 1391.6C1353.6 1391.7 1355.6 1391.7 1357.6 1391.8C1359.6 1391.8 1361.5 1391.9 1363.5 1391.9C1365.5 1392.0 1367.5 1392.1 1369.5 1392.2C1371.5 1392.3 1373.5 1392.4 1375.5 1392.5C1377.5 1392.7 1379.5 1392.8 1381.5 1392.9C1383.5 1393.1 1385.5 1393.3 1387.5 1393.4C1389.5 1393.6 1391.5 1393.8 1393.5 1394.0C1395.5 1394.2 1397.5 1394.4 1399.5 1394.6C1401.5 1394.8 1403.5 1395.1 1405.5 1395.3C1407.5 1395.5 1409.5 1395.8 1411.5 1396.1C1413.5 1396.3 1415.5 1396.6 1417.5 1396.9C1419.5 1397.2 1421.5 1397.5 1423.5 1397.8C1425.5 1398.1 1427.5 1398.4 1429.5 1398.8C1431.5 1399.1 1433.4 1399.4 1435.4 1399.8C1437.4 1400.2 1439.4 1400.6 1441.4 1401.0C1443.4 1401.4 1445.4 1401.8 1447.4 1402.3C1449.4 1402.7 1451.4 1403.2 1453.4 1403.7C1455.4 1404.2 1457.4 1404.8 1459.4 1405.3C1461.4 1405.9 1463.4 1406.5 1465.4 1407.1C1467.4 1407.7 1469.4 1408.3 1471.4 1409.0C1473.4 1409.6 1475.4 1410.3 1477.4 1411.0C1479.4 1411.7 1481.4 1412.5 1483.4 1413.2C1485.4 1414.0 1487.4 1414.7 1489.4 1415.5C1491.4 1416.3 1493.4 1417.1 1495.4 1417.9C1497.4 1418.7 1499.4 1419.5 1501.4 1420.3C1503.3 1421.0 1505.3 1421.8 1507.3 1422.5C1509.3 1423.2 1511.3 1423.9 1513.3 1424.6C1515.3 1425.2 1517.3 1425.8 1519.3 1426.2C1521.3 1426.7 1523.3 1427.2 1525.3 1427.5C1527.3 1427.8 1529.3 1428.1 1531.3 1428.2C1533.3 1428.4 1535.3 1428.4 1537.3 1428.3C1539.3 1428.3 1541.3 1428.1 1543.3 1427.8C1545.3 1427.5 1547.3 1427.0 1549.3 1426.4C1551.3 1425.9 1553.3 1425.2 1555.3 1424.3C1557.3 1423.4 1559.3 1422.4 1561.3 1421.2C1563.3 1420.1 1565.3 1418.8 1567.3 1417.4C1569.3 1416.0 1571.3 1414.5 1573.3 1413.0C1575.2 1411.4 1577.2 1409.8 1579.2 1408.2C1581.2 1406.5 1583.2 1404.8 1585.2 1403.2C1587.2 1401.5 1589.2 1399.8 1591.2 1398.2C1593.2 1396.6 1595.2 1395.0 1597.2 1393.5C1599.2 1392.0 1601.2 1390.5 1603.2 1389.1C1605.2 1387.7 1607.2 1386.4 1609.2 1385.2C1611.2 1384.0 1613.2 1382.8 1615.2 1381.8C1617.2 1380.8 1619.2 1379.9 1621.2 1379.1C1623.2 1378.3 1625.2 1377.6 1627.2 1377.1C1629.2 1376.6 1631.2 1376.2 1633.2 1375.9C1635.2 1375.6 1637.2 1375.4 1639.2 1375.2C1641.2 1375.0 1643.2 1374.9 1645.2 1374.7C1647.1 1374.5 1649.1 1374.3 1651.1 1374.1C1653.1 1373.8 1655.1 1373.6 1657.1 1373.1C1659.1 1372.7 1661.1 1372.2 1663.1 1371.5C1665.1 1370.8 1667.1 1370.0 1669.1 1369.1C1671.1 1368.2 1673.1 1367.1 1675.1 1366.0C1677.1 1364.8 1679.1 1363.5 1681.1 1362.1C1683.1 1360.8 1685.1 1359.3 1687.1 1357.7C1689.1 1356.2 1691.1 1354.5 1693.1 1352.8C1695.1 1351.0 1697.1 1349.2 1699.1 1347.4C1701.1 1345.5 1703.1 1343.5 1705.1 1341.5C1707.1 1339.4 1709.1 1337.3 1711.1 1335.0C1713.1 1332.8 1715.1 1330.5 1717.0 1328.0C1719.0 1325.6 1721.0 1323.0 1723.0 1320.3C1725.0 1317.7 1727.0 1314.9 1729.0 1312.0C1731.0 1309.0 1733.0 1305.9 1735.0 1302.8C1737.0 1299.7 1739.0 1296.4 1741.0 1293.2C1743.0 1290.0 1745.0 1286.7 1747.0 1283.4C1749.0 1280.2 1751.0 1276.9 1753.0 1273.8C1755.0 1270.7 1757.0 1267.6 1759.0 1264.8C1761.0 1261.9 1763.0 1259.1 1765.0 1256.5C1767.0 1254.0 1769.0 1251.6 1771.0 1249.4C1773.0 1247.1 1775.0 1245.1 1777.0 1243.1C1779.0 1241.2 1781.0 1239.4 1783.0 1237.7C1785.0 1236.0 1787.0 1234.4 1788.9 1232.8C1790.9 1231.3 1792.9 1229.8 1794.9 1228.3C1796.9 1226.9 1798.9 1225.5 1800.9 1224.1C1802.9 1222.7 1804.9 1221.3 1806.9 1219.9C1808.9 1218.5 1810.9 1217.0 1812.9 1215.4C1814.9 1213.9 1816.9 1212.3 1818.9 1210.5C1820.9 1208.7 1822.9 1206.9 1824.9 1204.8C1826.9 1202.7 1828.9 1200.5 1830.9 1198.1C1832.9 1195.6 1834.9 1192.9 1836.9 1190.1C1838.9 1187.2 1840.9 1184.1 1842.9 1180.9C1844.9 1177.7 1846.9 1174.4 1848.9 1171.0C1850.9 1167.6 1852.9 1164.0 1854.9 1160.5C1856.9 1157.0 1858.8 1153.4 1860.8 1149.9C1862.8 1146.4 1864.8 1142.9 1866.8 1139.6C1868.8 1136.2 1870.8 1132.9 1872.8 1129.7C1874.8 1126.5 1876.8 1123.5 1878.8 1120.4C1880.8 1117.4 1882.8 1114.5 1884.8 1111.6C1886.8 1108.8 1888.8 1106.0 1890.8 1103.3C1892.8 1100.6 1894.8 1097.9 1896.8 1095.3C1898.8 1092.7 1900.8 1090.1 1902.8 1087.6C1904.8 1085.0 1906.8 1082.5 1908.8 1080.1C1910.8 1077.6 1912.8 1075.2 1914.8 1072.8C1916.8 1070.4 1918.8 1068.0 1920.8 1065.6C1922.8 1063.2 1924.8 1060.9 1926.8 1058.5C1928.8 1056.1 1930.7 1053.8 1932.7 1051.4C1934.7 1049.1 1936.7 1046.7 1938.7 1044.4C1940.7 1042.0 1942.7 1039.6 1944.7 1037.2C1946.7 1034.8 1948.7 1032.4 1950.7 1030.0C1952.7 1027.5 1954.7 1025.0 1956.7 1022.5C1958.7 1019.9 1960.7 1017.3 1962.7 1014.7C1964.7 1012.0 1966.7 1009.3 1968.7 1006.5C1970.7 1003.7 1972.7 1000.9 1974.7 997.9C1976.7 995.0 1978.7 992.0 1980.7 988.9C1982.7 985.7 1984.7 982.5 1986.7 979.2C1988.7 975.9 1990.7 972.5 1992.7 969.0C1994.7 965.4 1996.7 961.8 1998.7 958.0C2000.7 954.3 2002.6 950.4 2004.6 946.3C2006.6 942.3 2008.6 938.2 2010.6 933.8C2012.6 929.5 2014.6 925.1 2016.6 920.4C2018.6 915.7 2020.6 910.9 2022.6 905.8C2024.6 900.7 2026.6 895.4 2028.6 889.8C2030.6 884.3 2032.6 878.5 2034.6 872.4C2036.6 866.3 2038.6 859.9 2040.6 853.2C2042.6 846.6 2044.6 839.5 2046.6 832.4C2048.6 825.4 2050.6 818.0 2052.6 811.0C2054.6 803.9 2056.6 796.7 2058.6 790.0C2060.6 783.2 2062.6 776.6 2064.6 770.6C2066.6 764.6 2068.6 758.9 2070.6 754.0C2072.5 749.1 2074.5 744.7 2076.5 741.2C2078.5 737.7 2080.5 735.0 2082.5 732.9C2084.5 730.7 2086.5 729.3 2088.5 728.3C2090.5 727.3 2092.5 726.9 2094.5 726.8C2096.5 726.7 2098.5 727.1 2100.5 727.6C2102.5 728.1 2104.5 729.0 2106.5 729.9C2108.5 730.9 2110.5 732.0 2112.5 733.1C2114.5 734.3 2116.5 735.5 2118.5 736.6C2120.5 737.8 2122.5 739.0 2124.5 740.1C2126.5 741.1 2128.5 742.2 2130.5 743.1C2132.5 744.0 2134.5 744.8 2136.5 745.3C2138.5 745.9 2140.5 746.3 2142.5 746.4C2144.4 746.5 2146.4 746.4 2148.4 746.0C2150.4 745.6 2152.4 744.9 2154.4 744.0C2156.4 743.0 2158.4 741.8 2160.4 740.3C2162.4 738.8 2164.4 737.0 2166.4 734.9C2168.4 732.8 2170.4 730.4 2172.4 727.7C2174.4 725.0 2177.4 720.2 2178.4 718.6"/>
</g>
<g fill="#000" shape-rendering="crispEdges">
<rect x="308" y="37" width="13" height="1705"/>
<rect x="2379" y="37" width="13" height="1705"/>
<rect x="281" y="37" width="2111" height="13"/>
<rect x="281" y="1702" width="2111" height="13"/>
<rect x="298" y="1583" width="10" height="13"/>
<rect x="281" y="1465" width="27" height="13"/>
<rect x="298" y="1346" width="10" height="13"/>
<rect x="281" y="1227" width="27" height="13"/>
<rect x="298" y="1108" width="10" height="13"/>
<rect x="281" y="989" width="27" height="13"/>
<rect x="298" y="870" width="10" height="13"/>
<rect x="281" y="751" width="27" height="13"/>
<rect x="298" y="632" width="10" height="13"/>
<rect x="281" y="513" width="27" height="13"/>
<rect x="298" y="394" width="10" height="13"/>
<rect x="281" y="275" width="27" height="13"/>
<rect x="298" y="156" width="10" height="13"/>
<rect x="481" y="1715" width="13" height="10"/>
<rect x="653" y="1715" width="13" height="27"/>
<rect x="826" y="1715" width="13" height="10"/>
<rect x="999" y="1715" width="12" height="27"/>
<rect x="1171" y="1715" width="13" height="10"/>
<rect x="1344" y="1715" width="13" height="27"/>
<rect x="1516" y="1715" width="13" height="10"/>
<rect x="1689" y="1715" width="13" height="27"/>
<rect x="1861" y="1715" width="13" height="10"/>
<rect x="2034" y="1715" width="13" height="27"/>
<rect x="2207" y="1715" width="13" height="10"/>
</g>
<g class="tk" text-anchor="end">
<text transform="translate(260.8 1735.7) scale(0.95 1)">10</text>
<text transform="translate(260.8 1498.7) scale(0.95 1)">20</text>
<text transform="translate(260.8 1260.7) scale(0.95 1)">30</text>
<text transform="translate(260.8 1022.7) scale(0.95 1)">40</text>
<text transform="translate(260.8 784.7) scale(0.95 1)">50</text>
<text transform="translate(260.8 546.7) scale(0.95 1)">60</text>
<text transform="translate(260.8 308.7) scale(0.95 1)">70</text>
<text transform="translate(260.8 70.7) scale(0.95 1)">80</text>
</g>
<g class="tk" text-anchor="middle">
<text transform="translate(315.0 1823.6) scale(0.95 1)">0</text>
<text transform="translate(660.0 1823.6) scale(0.95 1)">10</text>
<text transform="translate(1006.0 1823.6) scale(0.95 1)">20</text>
<text transform="translate(1351.0 1823.6) scale(0.95 1)">30</text>
<text transform="translate(1696.0 1823.6) scale(0.95 1)">40</text>
<text transform="translate(2041.0 1823.6) scale(0.95 1)">50</text>
<text transform="translate(2386.0 1823.6) scale(0.95 1)">60</text>
</g>
<text class="ax" text-anchor="middle" x="1349.5" y="1943">Height %</text>
<text class="ax" style="letter-spacing:-0.5px" text-anchor="middle" transform="translate(121 876.5) rotate(-90)">Void area ratio of circle/%</text>
<g shape-rendering="crispEdges">
<rect x="1949" y="154" width="195" height="13" fill="#1b9e77"/>
<rect x="1949" y="261" width="195" height="12" fill="#d95f02"/>
<rect x="1949" y="367" width="195" height="13" fill="#7570b3"/>
</g>
<g class="lg">
<text transform="translate(2163.4 190) scale(1.1 1)">I</text>
<text transform="translate(2163.4 296.3) scale(1.1 1)">II</text>
<text transform="translate(2163.4 402.7) scale(1.1 1)">III</text>
</g>
</svg>
</body></html>
